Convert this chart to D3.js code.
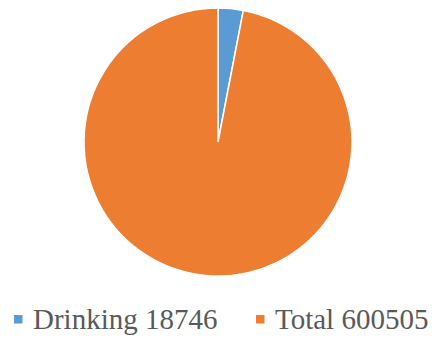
<!DOCTYPE html>
<html>
<head>
<meta charset="utf-8">
<script src="https://cdn.jsdelivr.net/npm/d3@7/dist/d3.min.js"></script>
<style>
  html, body { margin: 0; padding: 0; background: #fff; }
  svg { display: block; }
</style>
</head>
<body>
<svg id="chart" width="435" height="339"></svg>
<script>
// Water use breakdown
const categories = ["Drinking", "Total"];
const values = [18746, 600505];
const colors = ["#5B9BD5", "#ED7D31"];

const svg = d3.select("#chart");
const cx = 218, cy = 142, radius = 134;

const pie = d3.pie().sort(null).value(d => d.value);
const arc = d3.arc().innerRadius(0).outerRadius(radius);

const data = categories.map((c, i) => ({ name: c, value: values[i], color: colors[i] }));

svg.append("g")
  .attr("transform", `translate(${cx},${cy})`)
  .selectAll("path")
  .data(pie(data))
  .join("path")
  .attr("d", arc)
  .attr("fill", d => d.data.color)
  .attr("stroke", "#fff")
  .attr("stroke-width", 1.5);

// Legend
const legendX = [14, 256];
const legend = svg.append("g").selectAll("g")
  .data(data)
  .join("g")
  .attr("transform", (d, i) => `translate(${legendX[i]},0)`);

legend.append("rect")
  .attr("x", 0).attr("y", 315)
  .attr("width", 8.5).attr("height", 8.5)
  .attr("fill", d => d.color);

legend.append("text")
  .attr("x", 19).attr("y", 329)
  .style("font-family", "'Liberation Serif', 'Times New Roman', serif")
  .style("font-size", "29px")
  .attr("fill", "#595959")
  .text(d => `${d.name} ${d.value}`);
</script>
</body>
</html>
